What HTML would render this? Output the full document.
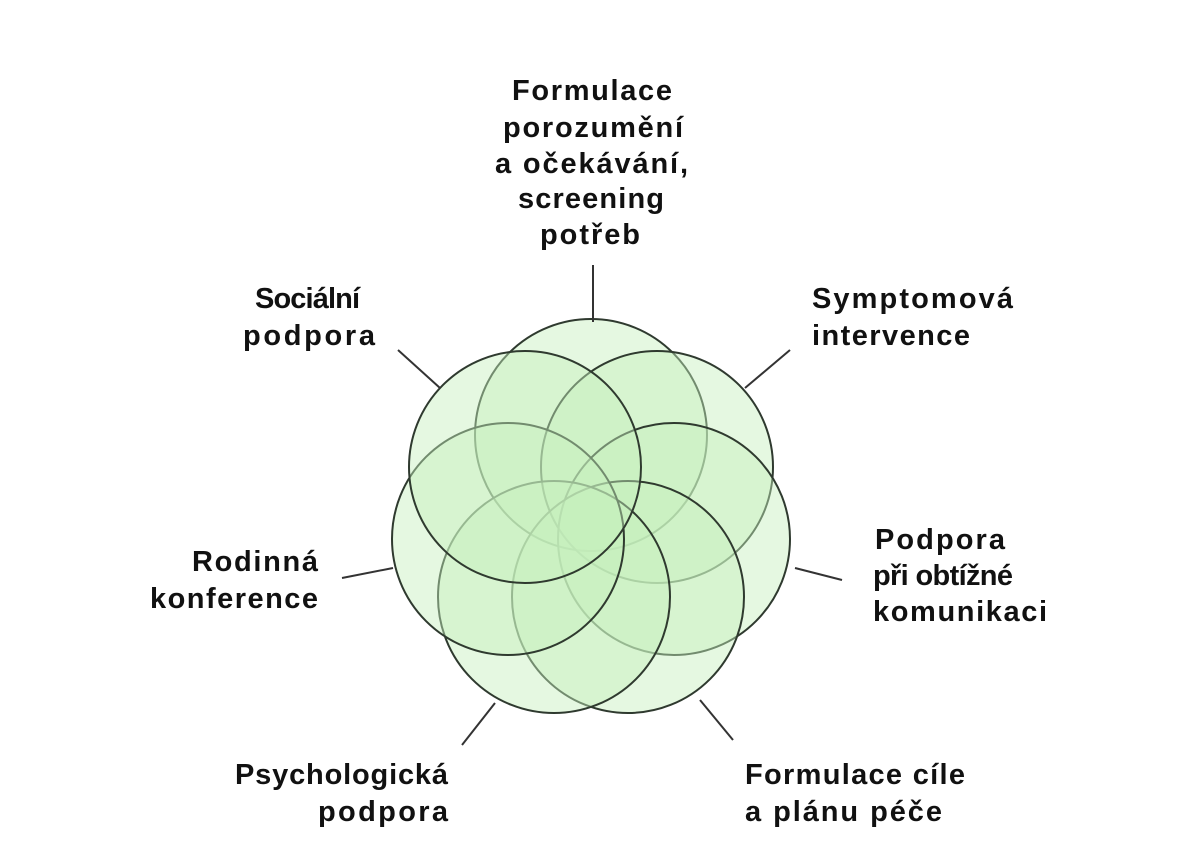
<!DOCTYPE html>
<html><head><meta charset="utf-8"><style>
html,body{margin:0;padding:0;background:#fff;}
svg{display:block}
text{font-family:"Liberation Sans",sans-serif;font-weight:bold;font-size:29px;fill:#111;}
</style></head><body>
<svg width="1184" height="864" viewBox="0 0 1184 864" xmlns="http://www.w3.org/2000/svg">
<g fill="#c6efbd" fill-opacity="0.45" stroke="#2f3a2f" stroke-width="2">
<circle cx="591" cy="435" r="116"/>
<circle cx="657" cy="467" r="116"/>
<circle cx="674" cy="539" r="116"/>
<circle cx="628" cy="597" r="116"/>
<circle cx="554" cy="597" r="116"/>
<circle cx="508" cy="539" r="116"/>
<circle cx="525" cy="467" r="116"/>
</g>
<g stroke="#333" stroke-width="2">
<line x1="593" y1="265" x2="593" y2="322"/>
<line x1="398" y1="350" x2="440" y2="388"/>
<line x1="790" y1="350" x2="745" y2="388"/>
<line x1="795" y1="568" x2="842" y2="580"/>
<line x1="342" y1="578" x2="393" y2="568"/>
<line x1="462" y1="745" x2="495" y2="703"/>
<line x1="733" y1="740" x2="700" y2="700"/>
</g>
<g>
<text x="512" y="100" textLength="160" lengthAdjust="spacing">Formulace</text>
<text x="503" y="137" textLength="180" lengthAdjust="spacing">porozumění</text>
<text x="495" y="173" textLength="193" lengthAdjust="spacing">a očekávání,</text>
<text x="518" y="208" textLength="146" lengthAdjust="spacing">screening</text>
<text x="540" y="244" textLength="100" lengthAdjust="spacing">potřeb</text>
<text x="255" y="308" textLength="105" lengthAdjust="spacing">Sociální</text>
<text x="243" y="345" textLength="132" lengthAdjust="spacing">podpora</text>
<text x="812" y="308" textLength="201" lengthAdjust="spacing">Symptomová</text>
<text x="812" y="345" textLength="158" lengthAdjust="spacing">intervence</text>
<text x="875" y="549" textLength="130" lengthAdjust="spacing">Podpora</text>
<text x="873" y="585" textLength="140" lengthAdjust="spacing">při obtížné</text>
<text x="873" y="621" textLength="174" lengthAdjust="spacing">komunikaci</text>
<text x="192" y="571" textLength="126" lengthAdjust="spacing">Rodinná</text>
<text x="150" y="608" textLength="168" lengthAdjust="spacing">konference</text>
<text x="235" y="784" textLength="213" lengthAdjust="spacing">Psychologická</text>
<text x="318" y="821" textLength="130" lengthAdjust="spacing">podpora</text>
<text x="745" y="784" textLength="220" lengthAdjust="spacing">Formulace cíle</text>
<text x="745" y="821" textLength="197" lengthAdjust="spacing">a plánu péče</text>
</g>
</svg>
</body></html>
